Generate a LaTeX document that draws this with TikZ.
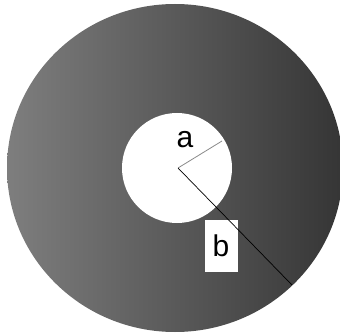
\documentclass[tikz,border=0pt]{standalone}
\usepackage{fontspec}
\setmainfont{Liberation Sans}
\usetikzlibrary{positioning}
\definecolor{ringlight}{HTML}{7E7E7E}
\definecolor{ringdark}{HTML}{353535}
\definecolor{radgray}{HTML}{8A8A8A}

\begin{document}
\begin{tikzpicture}[x=1pt, y=-1pt,
  lbl/.style={font=\fontsize{30}{30}\selectfont, inner sep=1pt},
  lblbox/.style={lbl, fill=white, minimum width=33pt, minimum height=52pt}]
\useasboundingbox (0,0) rectangle (340,334);
% ring
\shade[left color=ringlight, right color=ringdark] (175,168) ellipse [x radius=168, y radius=164];
\fill[white] (177,168) circle [radius=55];
% radii
\coordinate (o) at (178,168);
\coordinate (ea) at (222,141);
\coordinate (eb) at (292,285);
\node[lbl] (la) at (185,140) {a};
\node[lblbox] (lb) at (221,246) {b};
\draw[radgray, line width=0.8pt] (o) -- (ea);
\draw[black, line width=0.7pt] (o) -- (eb);
\end{tikzpicture}
\end{document}
